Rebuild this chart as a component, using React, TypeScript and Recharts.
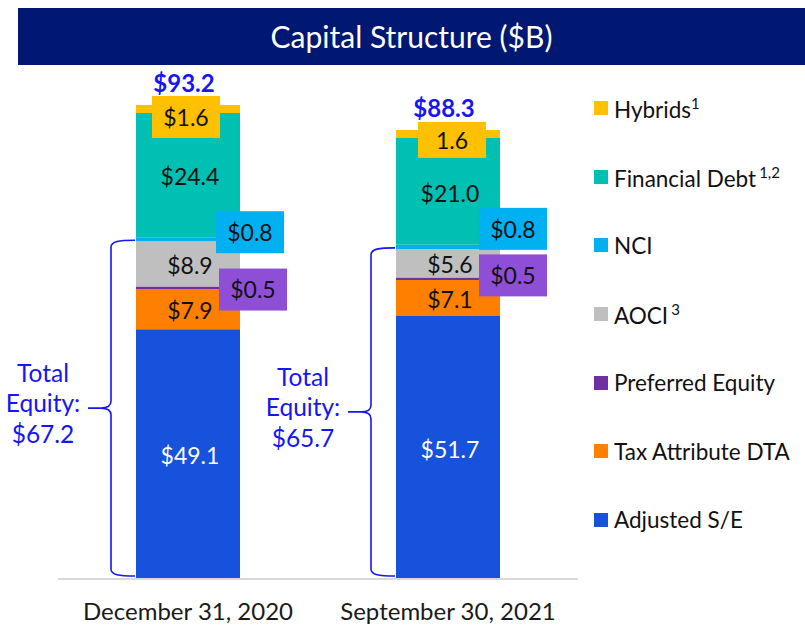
import React from "react";
import { BarChart, Bar, XAxis, YAxis, LabelList, Legend } from "recharts";

const FONT = "Lato, 'Noto Sans', sans-serif";

const categories = ["December 31, 2020", "September 30, 2021"];
const adjustedSE = [49.1, 51.7];
const taxAttributeDTA = [7.9, 7.1];
const preferredEquity = [0.5, 0.5];
const aoci = [8.9, 5.6];
const nci = [0.8, 0.8];
const financialDebt = [24.4, 21.0];
const hybrids = [1.6, 1.6];
const hybridLabels = ["$1.6", "1.6"];
const totalCapital = [93.2, 88.3];
const totalEquity = [67.2, 65.7];

// stacking order bottom -> top
const SERIES = [
  { key: "adjustedSE", name: "Adjusted S/E", note: "", color: "#1652DB" },
  { key: "taxAttributeDTA", name: "Tax Attribute DTA", note: "", color: "#FF8000" },
  { key: "preferredEquity", name: "Preferred Equity", note: "", color: "#7030A0" },
  { key: "aoci", name: "AOCI", note: "3", color: "#BFBFBF" },
  { key: "nci", name: "NCI", note: "", color: "#00B0F0" },
  { key: "financialDebt", name: "Financial Debt", note: "1,2", color: "#00BFB3" },
  { key: "hybrids", name: "Hybrids", note: "1", color: "#FFC000" },
];

const data = categories.map((category, i) => ({
  category,
  adjustedSE: adjustedSE[i],
  taxAttributeDTA: taxAttributeDTA[i],
  preferredEquity: preferredEquity[i],
  aoci: aoci[i],
  nci: nci[i],
  financialDebt: financialDebt[i],
  hybrids: hybrids[i],
  hybridLabel: hybridLabels[i],
  totalCapital: totalCapital[i],
  totalEquity: totalEquity[i],
}));

// layout tweaks for the callout boxes (per category)
const HYB_BOX = { w: 68, h: [42, 36], dx: [-2, 4], dy: [-9, -8] };
const NCI_BOX = { w: 68, h: 42, right: [24, 21], dy: [-26, -37] };
const PREF_BOX = { w: 68, h: 42, right: [21, 21], dy: [-18, -23] };
const BLUE_TEXT = "#1616F2";
const LABEL_SIZE = 23;

const geom = (p: any) => {
  const vb = p.viewBox || {};
  const x = Number(vb.x ?? p.x);
  const y = Number(vb.y ?? p.y);
  const width = Number(vb.width ?? p.width);
  const height = Number(vb.height ?? p.height);
  const index = Number(p.index ?? 0);
  return { x, y, width, height, index };
};

const fmt = (v: any) => "$" + Number(v).toFixed(1);

const centerLabel = (fill: string) => (p: any) => {
  const { x, y, width, height } = geom(p);
  return (
    <text
      x={x + width / 2 + 2}
      y={y + height / 2}
      dy="0.44em"
      textAnchor="middle"
      fontFamily={FONT}
      fontSize={LABEL_SIZE}
      fill={fill}
    >
      {fmt(p.value)}
    </text>
  );
};

const boxLabel = (bg: string, left: number, top: number, w: number, h: number, txt: string) => (
  <g>
    <rect x={left} y={top} width={w} height={h} fill={bg} />
    <text
      x={left + w / 2}
      y={top + h / 2}
      dy="0.38em"
      textAnchor="middle"
      fontFamily={FONT}
      fontSize={LABEL_SIZE}
      fill="#111"
    >
      {txt}
    </text>
  </g>
);

const nciLabel = (p: any) => {
  const { x, y, width, index } = geom(p);
  const left = x + width - NCI_BOX.right[index];
  return boxLabel("#00B0F0", left, y + NCI_BOX.dy[index], NCI_BOX.w, NCI_BOX.h, fmt(p.value));
};

const prefLabel = (p: any) => {
  const { x, y, width, index } = geom(p);
  const left = x + width - PREF_BOX.right[index];
  return boxLabel("#8E4FD6", left, y + PREF_BOX.dy[index], PREF_BOX.w, PREF_BOX.h, fmt(p.value));
};

const hybridLabel = (p: any) => {
  const { x, y, width, index } = geom(p);
  const w = HYB_BOX.w;
  const h = HYB_BOX.h[index];
  const left = x + width / 2 + HYB_BOX.dx[index] - w / 2;
  return boxLabel("#FFC000", left, y + HYB_BOX.dy[index], w, h, String(p.value));
};

const totalLabel = (p: any) => {
  const { x, y, width } = geom(p);
  return (
    <text
      x={x + width / 2 - 4}
      y={y - 13}
      textAnchor="middle"
      fontFamily={FONT}
      fontSize={24}
      fontWeight={700}
      fill={BLUE_TEXT}
    >
      {fmt(p.value)}
    </text>
  );
};

const BraceShape = (p: any) => {
  const { x, y, height } = p;
  const vx = x - 25;
  const top = y + 3;
  const bot = y + height - 3;
  const mid = (top + bot) / 2;
  const tip = vx - 10;
  const d = [
    `M ${x - 1} ${top}`,
    `C ${vx + 8} ${top} ${vx} ${top + 1} ${vx} ${top + 7}`,
    `L ${vx} ${mid - 7}`,
    `C ${vx} ${mid - 2} ${vx - 4} ${mid} ${tip} ${mid}`,
    `L ${x - 48} ${mid}`,
    `M ${tip} ${mid}`,
    `C ${vx - 4} ${mid} ${vx} ${mid + 2} ${vx} ${mid + 7}`,
    `L ${vx} ${bot - 7}`,
    `C ${vx} ${bot - 1} ${vx + 8} ${bot} ${x - 1} ${bot}`,
  ].join(" ");
  return <path d={d} fill="none" stroke={BLUE_TEXT} strokeWidth={1.6} />;
};

const braceText = (p: any) => {
  const { x, y, height } = geom(p);
  const mid = (y + 3 + y + height - 3) / 2;
  const cx = x - 93;
  const common = {
    x: cx,
    textAnchor: "middle" as const,
    fontFamily: FONT,
    fontSize: 24.5,
    fill: BLUE_TEXT,
  };
  return (
    <g>
      <text {...common} y={mid - 26}>Total</text>
      <text {...common} y={mid + 4}>Equity:</text>
      <text {...common} y={mid + 35}>{fmt(p.value)}</text>
    </g>
  );
};

const renderTick = (p: any) => (
  <text
    x={p.x}
    y={p.y}
    dy={41}
    textAnchor="middle"
    fontFamily={FONT}
    fontSize={24}
    fill="#1a1a1a"
  >
    {p.payload.value}
  </text>
);

const legendOrder = [...SERIES].reverse();

const renderLegend = () => (
  <div style={{ fontFamily: FONT }}>
    {legendOrder.map((s) => (
      <div
        key={s.key}
        style={{ height: 68.6, display: "flex", alignItems: "center", whiteSpace: "nowrap" }}
      >
        <span
          style={{ width: 14, height: 14, background: s.color, marginRight: 6, flex: "none" }}
        />
        <span style={{ fontSize: 22.5, color: "#111" }}>
          {s.name}
          {s.note ? (
            <sup style={{ fontSize: 15, marginLeft: s.key === "hybrids" ? 0 : 3 }}>{s.note}</sup>
          ) : null}
        </span>
      </div>
    ))}
  </div>
);

export default function App() {
  return (
    <div
      style={{
        position: "absolute",
        left: 0,
        top: 0,
        width: 805,
        height: 626,
        background: "#fff",
        overflow: "hidden",
      }}
    >
      <div
        style={{
          position: "absolute",
          left: 18,
          top: 8,
          width: 787,
          height: 57,
          background: "#001871",
          color: "#fff",
          fontFamily: FONT,
          fontSize: 30,
          lineHeight: "57px",
          textAlign: "center",
        }}
      >
        Capital Structure ($B)
      </div>
      <div style={{ position: "absolute", left: 0, top: 0 }}>
        <BarChart
          width={805}
          height={626}
          data={data}
          margin={{ top: 70.4, right: 227, bottom: 0, left: 58 }}
        >
          <XAxis
            xAxisId="main"
            dataKey="category"
            height={47}
            axisLine={{ stroke: "#d9d9d9", strokeWidth: 2 }}
            tickLine={false}
            tickSize={0}
            tickMargin={0}
            tick={renderTick}
            interval={0}
          />
          <XAxis xAxisId="ov" dataKey="category" height={0} hide />
          <XAxis xAxisId="br" dataKey="category" height={0} hide />
          <YAxis yAxisId="main" domain={[0, 100]} hide />
          <YAxis yAxisId="ov" domain={[0, 100]} hide />
          <YAxis yAxisId="br" domain={[0, 100]} hide />
          <Legend
            layout="horizontal"
            verticalAlign="middle"
            align="center"
            content={renderLegend}
            wrapperStyle={{ left: 594, top: 74, width: 211, height: 480 }}
          />
          {SERIES.map((s) => (
            <Bar
              key={s.key}
              dataKey={s.key}
              xAxisId="main"
              yAxisId="main"
              stackId="cap"
              fill={s.color}
              barSize={104}
              isAnimationActive={false}
            />
          ))}
          <Bar
            dataKey="totalEquity"
            xAxisId="br"
            yAxisId="br"
            barSize={104}
            shape={BraceShape}
            isAnimationActive={false}
          >
            <LabelList dataKey="totalEquity" content={braceText} />
          </Bar>
          {SERIES.map((s) => (
            <Bar
              key={"ov-" + s.key}
              dataKey={s.key}
              xAxisId="ov"
              yAxisId="ov"
              stackId="ov"
              fill="none"
              barSize={104}
              isAnimationActive={false}
            >
              {s.key === "adjustedSE" && <LabelList dataKey={s.key} content={centerLabel("#ffffff")} />}
              {(s.key === "taxAttributeDTA" || s.key === "aoci" || s.key === "financialDebt") && (
                <LabelList dataKey={s.key} content={centerLabel("#111111")} />
              )}
              {s.key === "preferredEquity" && <LabelList dataKey={s.key} content={prefLabel} />}
              {s.key === "nci" && <LabelList dataKey={s.key} content={nciLabel} />}
              {s.key === "hybrids" && <LabelList dataKey="hybridLabel" content={hybridLabel} />}
              {s.key === "hybrids" && <LabelList dataKey="totalCapital" content={totalLabel} />}
            </Bar>
          ))}
        </BarChart>
      </div>
    </div>
  );
}
